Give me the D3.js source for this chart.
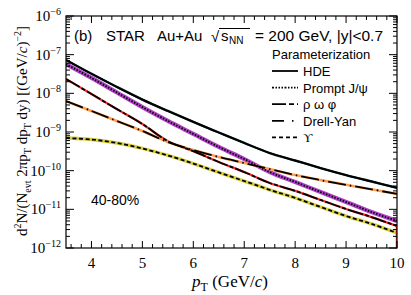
<!DOCTYPE html>
<html>
<head>
<meta charset="utf-8">
<script src="https://cdnjs.cloudflare.com/ajax/libs/d3/7.8.5/d3.min.js"></script>
<style>
  body { margin: 0; background: #fff; }
  .serif { font-family: "Liberation Serif", "DejaVu Serif", serif; }
  .sans { font-family: "Liberation Sans", Arial, sans-serif; }
</style>
</head>
<body>
<div id="chart"></div>
<script>
var svgWidth = 411;
var svgHeight = 295;

var margin = { top: 16, right: 14, bottom: 47, left: 66 };
var width = svgWidth - margin.left - margin.right;
var height = svgHeight - margin.top - margin.bottom;

// values
var pT = [3.5, 4, 4.5, 5, 5.5, 6, 6.5, 7, 7.5, 8, 8.5, 9, 9.5, 10];
var hde = [7.3e-8, 3.2e-8, 1.46e-8, 6.9e-9, 3.5e-9, 1.82e-9, 9.7e-10, 5.2e-10, 2.86e-10, 1.83e-10, 1.17e-10, 7.7e-11, 5.25e-11, 3.6e-11];
var jpsi = [5.7e-8, 2.5e-8, 1.05e-8, 4.4e-9, 1.93e-9, 8.9e-10, 4.1e-10, 2.0e-10, 9.2e-11, 5.1e-11, 2.8e-11, 1.55e-11, 8.5e-12, 5.0e-12];
var rho = [2.35e-8, 9.6e-9, 3.9e-9, 1.61e-9, 5.8e-10, 3.2e-10, 1.68e-10, 9.2e-11, 4.8e-11, 3.0e-11, 1.75e-11, 1.02e-11, 6.3e-12, 3.7e-12];
var drellYan = [6.3e-9, 3.5e-9, 1.93e-9, 1.06e-9, 5.5e-10, 3.4e-10, 2.26e-10, 1.58e-10, 1.1e-10, 7.7e-11, 5.7e-11, 4.3e-11, 3.3e-11, 2.5e-11];
var upsilon = [7.0e-10, 6.4e-10, 5.2e-10, 3.75e-10, 2.47e-10, 1.53e-10, 9.0e-11, 5.4e-11, 3.2e-11, 1.97e-11, 1.15e-11, 6.7e-12, 4.2e-12, 2.45e-12];

var xTicks = [4, 5, 6, 7, 8, 9, 10];
var yExponents = [-12, -11, -10, -9, -8, -7, -6];
var legendLabels = ["HDE", "Prompt J/\u03c8", "\u03c1  \u03c9  \u03c6", "Drell-Yan", "\u03d2"];

// line styles: band colour underneath, dash pattern of the black line
var series = [
  { values: hde, band: "#0d2b2b", bandWidth: 2.4, dash: null },
  { values: jpsi, band: "#b040c8", bandWidth: 4.2, dash: "1.5,1.5" },
  { values: rho, band: "#ff2a2a", bandWidth: 2.2, dash: "16,2,4,2" },
  { values: drellYan, band: "#ffa050", bandWidth: 2.6, dash: "18,4,1.5,4" },
  { values: upsilon, band: "#d8d040", bandWidth: 3.4, dash: "4,2.5" }
];
var legendDash = [null, "2,1.5,1.5,1.5,1.5,1.5,1.5,1.5", "14,3,5,3", "12,8,1.5,8", "4,3"];

var svg = d3.select("#chart")
  .append("svg")
  .attr("width", svgWidth)
  .attr("height", svgHeight);

var chartGroup = svg.append("g")
  .attr("transform", `translate(${margin.left}, ${margin.top})`);

var x = d3.scaleLinear().domain([3.5, 10]).range([0, width]);
var y = d3.scaleLog().domain([1e-12, 1e-6]).range([height, 0]);

chartGroup.append("defs").append("clipPath").attr("id", "clip")
  .append("rect").attr("width", width).attr("height", height);

var line = d3.line()
  .x((d, i) => x(pT[i]))
  .y(d => y(d))
  .curve(d3.curveCatmullRom);

var curves = chartGroup.append("g").attr("clip-path", "url(#clip)");

// bands first, then black lines on top
series.forEach(function (s) {
  curves.append("path")
    .attr("d", line(s.values))
    .attr("fill", "none")
    .attr("stroke", s.band)
    .attr("stroke-width", s.bandWidth);
});
series.forEach(function (s) {
  curves.append("path")
    .attr("d", line(s.values))
    .attr("fill", "none")
    .attr("stroke", "#000")
    .attr("stroke-width", 1.8)
    .attr("stroke-dasharray", s.dash);
});

// red edge of the rho band at pT = 10
curves.append("line")
  .attr("x1", x(10) - 0.5).attr("x2", x(10) - 0.5)
  .attr("y1", y(rho[rho.length - 1])).attr("y2", height)
  .attr("stroke", "#ff2a2a").attr("stroke-width", 1.5);

// ticks on all four sides
var minorX = d3.range(36, 101).map(d => d / 10).filter(d => Math.round(d * 10) % 2 === 0);
var minorY = [];
yExponents.slice(0, -1).forEach(function (e) {
  for (var k = 2; k <= 9; k++) minorY.push(k * Math.pow(10, e));
});

var ticks = chartGroup.append("g").attr("stroke", "#000").attr("stroke-width", 1);
minorX.forEach(function (v) {
  var len = Number.isInteger(v) ? 7 : 4;
  ticks.append("line").attr("x1", x(v)).attr("x2", x(v)).attr("y1", height).attr("y2", height - len);
  ticks.append("line").attr("x1", x(v)).attr("x2", x(v)).attr("y1", 0).attr("y2", len);
});
minorY.forEach(function (v) {
  ticks.append("line").attr("x1", 0).attr("x2", 4).attr("y1", y(v)).attr("y2", y(v));
  ticks.append("line").attr("x1", width).attr("x2", width - 4).attr("y1", y(v)).attr("y2", y(v));
});
yExponents.forEach(function (e) {
  var v = Math.pow(10, e);
  ticks.append("line").attr("x1", 0).attr("x2", 8).attr("y1", y(v)).attr("y2", y(v));
  ticks.append("line").attr("x1", width).attr("x2", width - 8).attr("y1", y(v)).attr("y2", y(v));
});

chartGroup.append("rect")
  .attr("width", width).attr("height", height)
  .attr("fill", "none").attr("stroke", "#000").attr("stroke-width", 1.2);

// tick labels
chartGroup.selectAll(".xlab").data(xTicks).enter().append("text")
  .attr("class", "serif")
  .attr("x", d => x(d)).attr("y", height + 20)
  .attr("text-anchor", "middle")
  .style("font-size", "15px")
  .text(d => d);

var ylab = chartGroup.selectAll(".ylab").data(yExponents).enter().append("text")
  .attr("class", "serif")
  .attr("x", -5).attr("y", d => y(Math.pow(10, d)) + 5)
  .attr("text-anchor", "end")
  .style("font-size", "15px");
ylab.append("tspan").text("10");
ylab.append("tspan").attr("dy", -6).style("font-size", "10px").text(d => "\u2212" + Math.abs(d));

// axis titles
var xt = svg.append("text").attr("class", "serif")
  .attr("x", 230).attr("y", 287).attr("text-anchor", "middle")
  .style("font-size", "17px");
xt.append("tspan").style("font-style", "italic").text("p");
xt.append("tspan").attr("dy", 4).style("font-size", "12px").text("T");
xt.append("tspan").attr("dy", -4).text(" (GeV/");
xt.append("tspan").style("font-style", "italic").text("c");
xt.append("tspan").text(")");

var yt = svg.append("text").attr("class", "serif")
  .attr("transform", "translate(27, 131) rotate(-90)")
  .attr("text-anchor", "middle")
  .style("font-size", "15px");
var parts = [
  ["d", 0, null], ["2", -6, "sup"], ["N/(N", 6, null], ["evt", 4, "sub"], [" 2\u03c0p", -4, null],
  ["T", 4, "sub"], [" dp", -4, null], ["T", 4, "sub"], [" dy) [(GeV/", -4, null],
  ["c", 0, "it"], [")", 0, null], ["\u22122", -6, "sup"], ["]", 6, null]
];
parts.forEach(function (p) {
  var t = yt.append("tspan").attr("dy", p[1]).text(p[0]);
  if (p[2] === "sup" || p[2] === "sub") t.style("font-size", "10px");
  if (p[2] === "it") t.style("font-style", "italic");
});

// header text
var head = svg.append("g").attr("class", "sans").style("font-size", "15px");
head.append("text").attr("x", 74).attr("y", 41).text("(b)");
head.append("text").attr("x", 106).attr("y", 41).text("STAR");
head.append("text").attr("x", 157).attr("y", 41).text("Au+Au");
head.append("text").attr("x", 211).attr("y", 42).text("\u221a");
head.append("line").attr("x1", 219).attr("x2", 250).attr("y1", 28.5).attr("y2", 28.5)
  .attr("stroke", "#000").attr("stroke-width", 1);
head.append("text").attr("x", 221).attr("y", 41).text("s");
head.append("text").attr("x", 229).attr("y", 44).style("font-size", "10px").text("NN");
head.append("text").attr("x", 255).attr("y", 41)
  .attr("textLength", 128).attr("lengthAdjust", "spacingAndGlyphs")
  .text("= 200 GeV, |y|<0.7");

svg.append("text").attr("class", "sans")
  .attr("x", 91).attr("y", 205).style("font-size", "14px")
  .text("40-80%");

// legend
var legend = svg.append("g").attr("class", "sans");
legend.append("text").attr("x", 272).attr("y", 59).style("font-size", "13px").text("Parameterization");
legendLabels.forEach(function (lab, i) {
  var ly = 71 + i * 16.6;
  legend.append("line")
    .attr("x1", 272).attr("x2", 298).attr("y1", ly).attr("y2", ly)
    .attr("stroke", "#000").attr("stroke-width", 1.8)
    .attr("stroke-dasharray", legendDash[i]);
  legend.append("text")
    .attr("x", 303).attr("y", ly + 5)
    .style("font-size", "13px")
    .attr("class", i === 4 ? "serif" : "sans")
    .text(lab);
});
</script>
</body>
</html>
